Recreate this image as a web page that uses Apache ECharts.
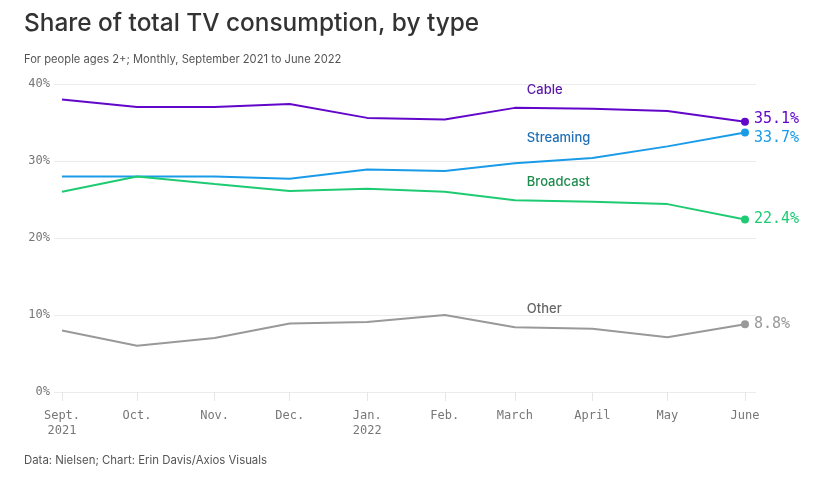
<!DOCTYPE html>
<html>
<head>
<meta charset="utf-8">
<script src="https://cdn.jsdelivr.net/npm/echarts@6/dist/echarts.min.js"></script>
<style>
html,body{margin:0;padding:0;background:#fff;}
#c{width:827px;height:477px;}
</style>
</head>
<body>
<div id="c"></div>
<script>
// ---- data ----
var months = ['2021-09-01','2021-10-01','2021-11-01','2021-12-01','2022-01-01','2022-02-01','2022-03-01','2022-04-01','2022-05-01','2022-06-01'];
var monthLabels = ['Sept.\n2021','Oct.','Nov.','Dec.','Jan.\n2022','Feb.','March','April','May','June'];
var cable     = [38.0, 37.0, 37.0, 37.4, 35.6, 35.4, 36.9, 36.8, 36.5, 35.1];
var streaming = [28.0, 28.0, 28.0, 27.7, 28.9, 28.7, 29.7, 30.4, 31.9, 33.7];
var broadcast = [26.0, 28.0, 27.0, 26.1, 26.4, 26.0, 24.9, 24.7, 24.4, 22.4];
var other     = [8.0, 6.0, 7.0, 8.9, 9.1, 10.0, 8.4, 8.2, 7.1, 8.8];
var yTicks = [0, 10, 20, 30, 40];

function ts(s){ var p = s.split('-'); return Date.UTC(+p[0], +p[1]-1, +p[2]); }
var DAY = 86400000;
var t0 = ts(months[0]);
// day offsets from the first month
var monthDays = months.map(function(s){ return Math.round((ts(s) - t0) / DAY); });

function pairs(vals){ return vals.map(function(v,i){ return [monthDays[i], v]; }); }

var mono = '"DejaVu Sans Mono", "Liberation Mono", monospace';
var sans = 'Inter, "Noto Sans", sans-serif';

function makeSeries(name, vals, color, labelColor, labelVal, endOffset){
  var last = vals.length - 1;
  return {
    name: name,
    type: 'line',
    data: pairs(vals),
    symbol: 'circle',
    symbolSize: function(v, p){ return p.dataIndex === last ? 8 : 0; },
    showAllSymbol: true,
    lineStyle: { color: color, width: 2 },
    itemStyle: { color: color },
    emphasis: { disabled: true },
    silent: true,
    endLabel: {
      show: true,
      formatter: function(p){ return p.value[1].toFixed(1) + '%'; },
      color: color,
      fontFamily: mono,
      fontSize: 15,
      distance: 9,
      offset: endOffset
    },
    markPoint: {
      silent: true,
      symbol: 'circle',
      symbolSize: 0,
      data: [{ coord: [monthDays[6], labelVal] }],
      label: {
        show: true,
        position: 'right',
        distance: 12,
        formatter: name,
        color: labelColor,
        fontFamily: sans,
        fontSize: 13,
        fontWeight: 500
      }
    }
  };
}

var chart = echarts.init(document.getElementById('c'), null, { renderer: 'canvas' });
chart.setOption({
  animation: false,
  backgroundColor: '#fff',
  title: [
    { text: 'Share of total TV consumption, by type', left: 24, top: 12, padding: 0,
      textStyle: { fontFamily: sans, fontSize: 24.4, fontWeight: 500, color: '#333' } },
    { text: 'For people ages 2+; Monthly, September 2021 to June 2022', left: 24, top: 54, padding: 0,
      textStyle: { fontFamily: sans, fontSize: 11.2, fontWeight: 400, color: '#555' } },
    { text: 'Data: Nielsen; Chart: Erin Davis/Axios Visuals', left: 24, top: 455, padding: 0,
      textStyle: { fontFamily: sans, fontSize: 11.4, fontWeight: 400, color: '#555' } }
  ],
  grid: { left: 54, right: 71, top: 84, bottom: 85, containLabel: false },
  xAxis: {
    type: 'value',
    min: monthDays[0] - 3.2,
    max: monthDays[monthDays.length - 1] + 4.4,
    axisLine: { show: false },
    axisTick: { show: true, customValues: monthDays, length: 9, lineStyle: { color: '#e6e6e6' } },
    splitLine: { show: false },
    axisLabel: {
      customValues: monthDays,
      margin: 16,
      color: '#777',
      fontFamily: mono,
      fontSize: 12,
      lineHeight: 15,
      showMinLabel: true,
      showMaxLabel: true,
      formatter: function(v){ var i = monthDays.indexOf(Math.round(v)); return i >= 0 ? monthLabels[i] : ''; }
    }
  },
  yAxis: {
    type: 'value',
    min: yTicks[0],
    max: yTicks[yTicks.length - 1],
    interval: 10,
    axisLine: { show: false },
    axisTick: { show: false },
    splitLine: { show: true, lineStyle: { color: '#ececec', width: 1 } },
    axisLabel: {
      color: '#777', fontFamily: mono, fontSize: 12, margin: 4,
      formatter: function(v){ return v + '%'; }
    }
  },
  series: [
    makeSeries('Cable', cable, '#6207c9', '#5a17a8', 39.2, [0, -3]),
    makeSeries('Streaming', streaming, '#1a9be8', '#2170b5', 33.0, [0, 6]),
    makeSeries('Broadcast', broadcast, '#1fcb72', '#1f8c4e', 27.3, [0, 0]),
    makeSeries('Other', other, '#999999', '#666666', 10.8, [0, 0])
  ]
});
</script>
</body>
</html>
